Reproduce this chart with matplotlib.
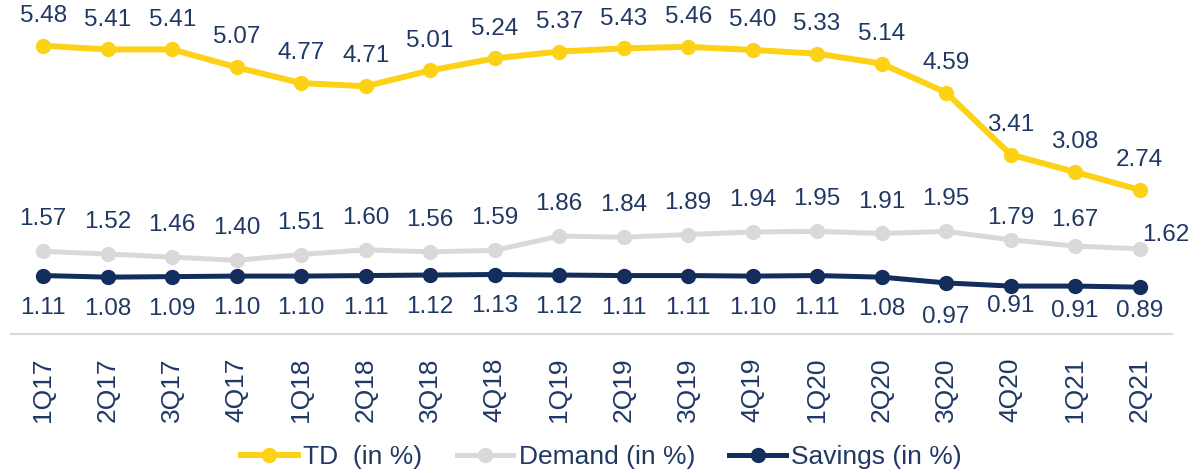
import matplotlib
matplotlib.use("Agg")
import matplotlib.pyplot as plt

plt.rcParams["font.family"] = ["Liberation Sans", "DejaVu Sans"]

quarters = ["1Q17", "2Q17", "3Q17", "4Q17", "1Q18", "2Q18", "3Q18", "4Q18",
            "1Q19", "2Q19", "3Q19", "4Q19", "1Q20", "2Q20", "3Q20", "4Q20",
            "1Q21", "2Q21"]
td = [5.48, 5.41, 5.41, 5.07, 4.77, 4.71, 5.01, 5.24, 5.37, 5.43, 5.46, 5.40,
      5.33, 5.14, 4.59, 3.41, 3.08, 2.74]
demand = [1.57, 1.52, 1.46, 1.40, 1.51, 1.60, 1.56, 1.59, 1.86, 1.84, 1.89,
          1.94, 1.95, 1.91, 1.95, 1.79, 1.67, 1.62]
savings = [1.11, 1.08, 1.09, 1.10, 1.10, 1.11, 1.12, 1.13, 1.12, 1.11, 1.11,
           1.10, 1.11, 1.08, 0.97, 0.91, 0.91, 0.89]

INK = "#1F3864"
YELLOW = "#FCD116"
GREY = "#D9D9D9"
NAVY = "#132D5C"

fig = plt.figure(figsize=(12.03, 4.73), dpi=100)
ax = fig.add_axes([0.0091, 0.294, 0.965, 0.706])

x = list(range(len(quarters)))
series = [
    ("TD  (in %)", td, YELLOW, 4.3, (0, 21.5), {}),
    ("Demand (in %)", demand, GREY, 3.6, (0, 23),
     {15: (0, 16), 16: (0, 19), 17: (19, 10)}),
    ("Savings (in %)", savings, NAVY, 3.6, (0, -23),
     {14: (0, -24.5), 15: (0, -14.5), 16: (0, -18), 17: (0, -17.5)}),
]
for label, vals, color, lw, off, special in series:
    ax.plot(x, vals, color=color, linewidth=lw, marker="o", markersize=10,
            label=label, zorder=3)
    for i, v in enumerate(vals):
        ax.annotate(f"{v:.2f}", (i, v), xytext=special.get(i, off),
                    textcoords="offset points", ha="center", va="center",
                    fontsize=17.5, color=INK)

ax.set_xlim(-0.5, 17.5)
ax.set_ylim(0, 6.35)
ax.set_yticks([])
for side in ("top", "right", "left"):
    ax.spines[side].set_visible(False)
ax.spines["bottom"].set_color(GREY)
ax.spines["bottom"].set_linewidth(1.5)
ax.set_xticks(x)
ax.set_xticklabels(quarters, rotation=90, fontsize=19, color=INK)
ax.tick_params(axis="x", length=0, pad=17)

leg = fig.legend(loc="center", bbox_to_anchor=(0.5, 0.034), ncol=3,
                 frameon=False, fontsize=19, numpoints=1, handlelength=2.15,
                 handletextpad=0.2, columnspacing=1.3, borderpad=0)
for t in leg.get_texts():
    t.set_color(INK)

fig.savefig("out.png", dpi=100)
